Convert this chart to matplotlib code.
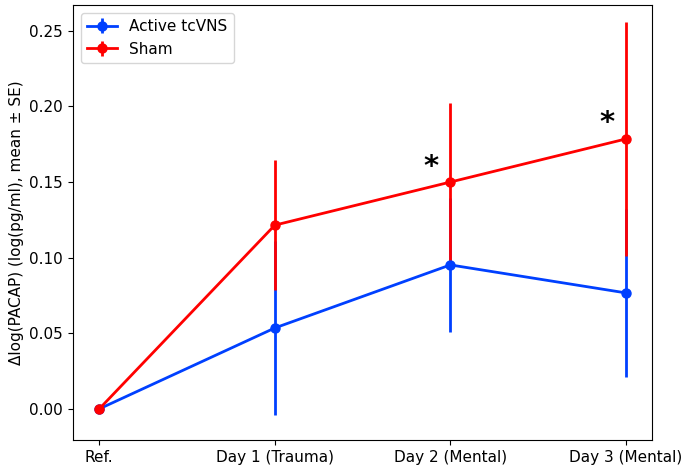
import matplotlib
matplotlib.use("Agg")
import matplotlib.pyplot as plt

labels = ["Ref.", "Day 1 (Trauma)", "Day 2 (Mental)", "Day 3 (Mental)"]
active_mean = [0.0, 0.0535, 0.0952, 0.0767]
active_se = [0.0, 0.0575, 0.0443, 0.0555]
sham_mean = [0.0, 0.1215, 0.1500, 0.1785]
sham_se = [0.0, 0.0432, 0.0520, 0.0775]
star_days = [2, 3]

x = list(range(len(labels)))

fig = plt.figure(figsize=(6.88, 4.65), dpi=100)
ax = fig.add_axes([0.106, 0.054, 0.842, 0.935])

ax.errorbar(x, active_mean, yerr=active_se, color="#0040ff", marker="o",
            markersize=6.5, linewidth=2, elinewidth=2, label="Active tcVNS")
ax.errorbar(x, sham_mean, yerr=sham_se, color="red", marker="o",
            markersize=6.5, linewidth=2, elinewidth=2, label="Sham")

for d in star_days:
    ax.text(d - 0.11, sham_mean[d] + 0.001, "*", fontsize=21,
            fontweight="bold", ha="center", va="bottom")

ax.set_ylim(-0.0205, 0.267)
ax.set_xticks(x)
ax.set_xticklabels(labels, fontsize=11)
ax.tick_params(axis="y", labelsize=11)
ax.set_ylabel("\u0394log(PACAP) (log(pg/ml), mean \u00b1 SE)", fontsize=11)
ax.legend(loc="upper left", fontsize=11)

fig.savefig("out.png", dpi=100)
